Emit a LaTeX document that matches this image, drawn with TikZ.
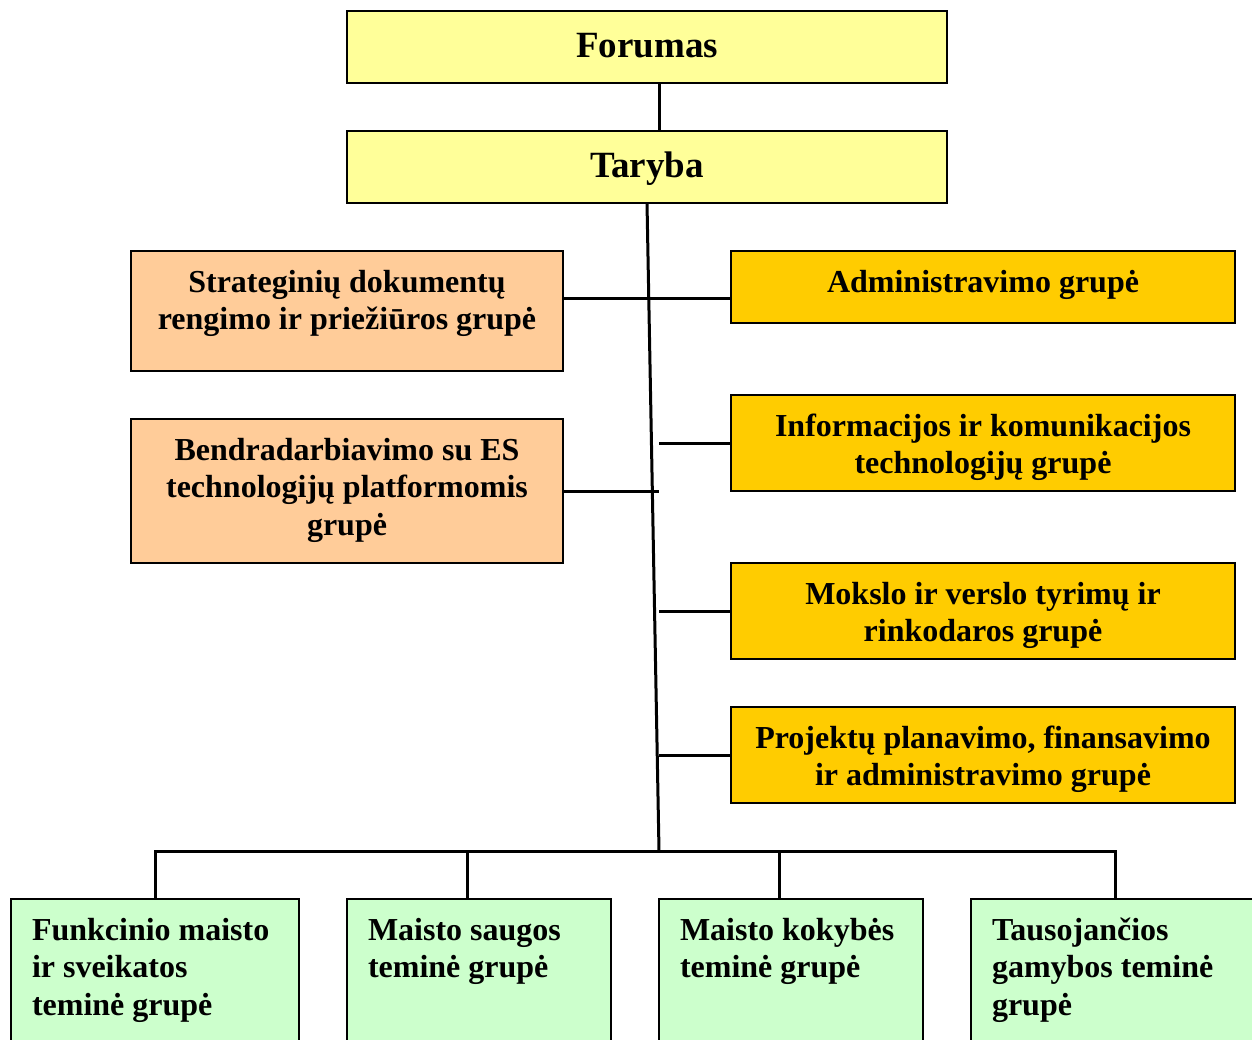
\documentclass[tikz,border=0pt]{standalone}
\usepackage{fontspec}
\setmainfont{Liberation Serif}
\definecolor{ylw}{HTML}{FFFF99}
\definecolor{pch}{HTML}{FFCC99}
\definecolor{gld}{HTML}{FFCC00}
\definecolor{grn}{HTML}{CCFFCC}
\newcommand\tbx[3]{\parbox[c][#2pt][t]{#1pt}{\centering\fontsize{37}{42}\selectfont\bfseries\rule{0pt}{46pt}#3}}
\newcommand\cbx[3]{\parbox[c][#2pt][t]{#1pt}{\centering\fontsize{32}{37.5}\selectfont\bfseries\rule{0pt}{41pt}#3}}
\newcommand\lbx[3]{\parbox[c][#2pt][t]{#1pt}{\raggedright\leftskip=21pt\fontsize{32}{37.5}\selectfont\bfseries\rule{0pt}{41pt}#3}}
\tikzset{
  bx/.style={draw=black,line width=2pt,inner sep=0pt,outer sep=0pt,anchor=north west},
  topbox/.style={bx,fill=ylw},
  leftbox/.style={bx,fill=pch},
  rightbox/.style={bx,fill=gld},
  botbox/.style={bx,fill=grn},
  conn/.style={draw=black,line width=3pt}
}
\begin{document}
\begin{tikzpicture}[x=1pt,y=-1pt]
\clip (0,0) rectangle (1252,1039);
\fill[white] (0,0) rectangle (1252,1039);
% boxes
\node[topbox] (forum) at (347,11) {\tbx{600}{72}{Forumas}};
\node[topbox] (taryba) at (347,131) {\tbx{600}{72}{Taryba}};
\node[leftbox] (strat) at (131,251) {\cbx{432}{120}{Strateginių dokumentų\\rengimo ir priežiūros grupė}};
\node[leftbox] (bendr) at (131,419) {\cbx{432}{144}{Bendradarbiavimo su ES\\technologijų platformomis\\grupė}};
\node[rightbox] (admin) at (731,251) {\cbx{504}{72}{Administravimo grupė}};
\node[rightbox] (info) at (731,395) {\cbx{504}{96}{Informacijos ir komunikacijos\\technologijų grupė}};
\node[rightbox] (moks) at (731,563) {\cbx{504}{96}{Mokslo ir verslo tyrimų ir\\rinkodaros grupė}};
\node[rightbox] (proj) at (731,707) {\cbx{504}{96}{Projektų planavimo, finansavimo\\ir administravimo grupė}};
\node[botbox] (func) at (11,899) {\lbx{288}{161}{Funkcinio maisto\\ir sveikatos\\teminė grupė}};
\node[botbox] (saug) at (347,899) {\lbx{264}{161}{Maisto saugos\\teminė grupė}};
\node[botbox] (kok) at (659,899) {\lbx{264}{161}{Maisto kokybės\\teminė grupė}};
\node[botbox] (taus) at (971,899) {\lbx{291}{161}{Tausojančios\\gamybos teminė\\grupė}};
% connector points
\coordinate (trunkbot) at (659,851);
\coordinate (bendrj) at (659,491);
\coordinate (busl) at (155,851);
\coordinate (busr) at (1115,851);
% connectors
\draw[conn] ([xshift=12pt]forum.south) -- ([xshift=12pt]taryba.north);
\draw[conn] (taryba.south) -- (trunkbot);
\draw[conn] ([yshift=-47pt]strat.north east) -- ([yshift=-47pt]admin.north west);
\draw[conn] ([yshift=-72pt]bendr.north east) -- (bendrj);
\draw[conn] (info.west) -- ++(-72,0);
\draw[conn] (moks.west) -- ++(-72,0);
\draw[conn] (proj.west) -- ++(-72,0);
\draw[conn] (func.north) -- (busl) -- (busr) -- (taus.north -| busr);
\draw[conn] (saug.north -| 467,0) -- (467,851);
\draw[conn] (kok.north -| 779,0) -- (779,851);
\end{tikzpicture}
\end{document}
